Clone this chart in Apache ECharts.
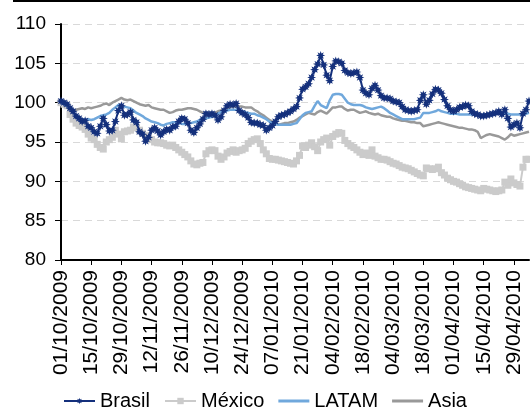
<!DOCTYPE html>
<html>
<head>
<meta charset="utf-8">
<script src="https://cdn.jsdelivr.net/npm/echarts@6/dist/echarts.min.js"></script>
<style>
  html, body { margin: 0; padding: 0; background: #fff; }
  #chart { width: 530px; height: 408px; }
</style>
</head>
<body>
<div id="chart"></div>
<script>
// business days, 01/10/2009 -> 06/05/2010
const dates = [];
const d = new Date(2009, 9, 1);
while (dates.length < 156) {
  const wd = d.getDay();
  if (wd !== 0 && wd !== 6) {
    const dd = String(d.getDate()).padStart(2, '0');
    const mm = String(d.getMonth() + 1).padStart(2, '0');
    dates.push(dd + '/' + mm + '/' + d.getFullYear());
  }
  d.setDate(d.getDate() + 1);
}

const yTicks = [80, 85, 90, 95, 100, 105, 110];

const brasil = [
  100.2, 100.0, 99.8, 99.3, 98.9, 98.3, 98.0, 97.6, 97.7, 97.0,
  96.8, 96.3, 96.1, 97.0, 98.0, 97.2, 96.4, 96.5, 97.6, 99.0,
  99.6, 98.4, 98.5, 98.8, 97.8, 97.5, 96.3, 96.0, 95.1, 95.6,
  96.5, 96.8, 96.4, 95.9, 96.3, 96.6, 96.5, 96.9, 97.0, 97.6,
  98.0, 97.9, 97.4, 96.5, 96.2, 96.8, 97.3, 97.9, 98.6, 98.5,
  98.6, 98.4, 97.8, 98.2, 99.0, 99.6, 99.8, 99.7, 99.9, 99.0,
  98.7, 98.5, 98.1, 97.5, 97.4, 97.4, 97.2, 97.1, 96.5, 96.8,
  97.1, 97.6, 98.2, 98.4, 98.5, 98.7, 98.9, 99.2, 99.5, 100.6,
  101.7, 102.0, 102.4, 103.2, 104.2, 104.9, 106.0, 104.8, 103.5, 102.8,
  104.6, 105.3, 105.2, 105.0, 104.1, 103.8, 103.7, 103.8, 103.9, 103.2,
  101.6, 101.2, 101.0, 101.8, 102.2, 101.6, 100.9, 100.6, 100.6, 100.5,
  100.2, 100.1, 100.0, 99.5, 99.1, 99.0, 98.9, 99.0, 99.1, 100.3,
  101.0, 99.8, 100.3, 101.1, 101.7, 101.6, 101.2, 100.4, 99.6, 99.1,
  98.9, 99.1, 99.4, 99.5, 99.7, 99.6, 98.9, 98.6, 98.5, 98.3,
  98.3, 98.4, 98.5, 98.6, 98.7, 98.9, 98.5, 99.1, 98.0, 96.9,
  97.2, 97.4, 96.8, 98.6, 99.1, 100.2
];

const mexico = [
  100.0, 99.8, 99.6, 98.5, 97.9, 97.4, 97.1, 96.9, 96.6, 96.0,
  95.5, 95.3, 94.7, 94.3, 94.1, 95.0, 95.3, 95.6, 96.5, 96.0,
  95.4, 96.3, 96.4, 96.5, 96.9, 96.8, 96.5, 96.1, 95.8, 95.5,
  95.3, 95.0, 94.9, 94.9, 94.8, 94.6, 94.5, 94.6, 94.3, 94.0,
  93.7, 93.4, 93.1, 92.6, 92.2, 92.1, 92.3, 92.4, 93.5, 93.9,
  94.0, 93.9, 93.2, 92.8, 93.1, 93.6, 93.8, 94.0, 93.7, 93.9,
  94.0, 94.2, 94.8, 95.1, 95.3, 95.4, 94.8, 94.0, 93.5, 92.9,
  92.8, 92.8, 92.7, 92.6, 92.5, 92.4, 92.3, 92.2, 92.6, 93.3,
  94.5, 94.3, 94.6, 94.9, 94.4, 93.9, 95.0, 95.3, 95.5, 94.6,
  95.7, 96.0, 96.2, 96.1, 95.2, 94.8, 94.5, 94.3, 94.0, 93.7,
  93.4, 93.6, 93.3, 94.0, 93.2, 93.0, 92.8, 92.8, 92.7, 92.5,
  92.3, 92.2, 92.0, 91.8, 91.7, 91.6, 91.4, 91.2, 91.0, 90.8,
  90.7, 91.7, 91.6, 91.5, 91.6, 91.8, 91.1, 90.8, 90.4, 90.2,
  90.0, 89.9, 89.7, 89.5, 89.3, 89.2, 89.1, 89.0, 88.9, 88.8,
  89.1, 89.0, 88.9, 88.8, 88.7, 88.8, 88.9, 89.9, 89.5, 90.3,
  89.8, 89.6, 89.4, 91.8, 92.8, 92.8
];

const latam = [
  100.0, 99.8, 99.6, 99.4, 98.8, 98.4, 98.1, 97.9, 97.8, 97.9,
  97.8, 97.9, 98.1, 98.3, 98.4, 98.5, 98.7, 99.1, 99.4, 99.7,
  99.6, 99.5, 99.4, 99.3, 99.0, 98.7, 98.5, 98.3, 98.0, 97.8,
  97.6, 97.5, 97.4, 97.2, 97.1, 97.3, 97.4, 97.5, 97.5, 97.4,
  97.3, 97.3, 97.4, 97.4, 97.5, 97.6, 97.8, 97.9, 98.0, 98.1,
  98.2, 98.4, 98.6, 98.8, 98.9, 99.0, 99.1, 99.1, 99.1, 99.0,
  98.9, 98.8, 98.7, 98.6, 98.6, 98.4, 98.3, 98.1, 97.9, 97.6,
  97.4, 97.3, 97.2, 97.2, 97.2, 97.2, 97.2, 97.3, 97.4, 97.9,
  98.4, 98.7, 98.8, 98.9, 99.6, 100.2, 99.7, 99.5, 99.3, 100.3,
  101.0, 101.1, 101.1, 101.0, 100.5, 100.0, 99.8, 99.7, 99.7, 99.7,
  99.6, 99.4, 99.3, 99.2, 99.3, 99.4, 99.5, 99.3, 99.0, 98.7,
  98.5, 98.3, 98.1, 97.9, 97.9, 97.9, 97.9, 97.9, 98.0, 98.1,
  98.7, 98.7, 98.7, 98.8, 98.9, 99.1, 98.9, 98.8, 98.7, 98.6,
  98.6, 98.6, 98.5, 98.5, 98.5, 98.5, 98.5, 98.5, 98.4, 98.4,
  98.5, 98.5, 98.6, 98.6, 98.7, 98.7, 98.7, 98.7, 98.6, 98.5,
  98.5, 98.5, 98.5, 98.5, 98.6, 98.7
];

const asia = [
  100.0, 99.8, 99.5, 99.3, 99.0, 99.1, 99.2, 99.3, 99.2, 99.4,
  99.3, 99.4, 99.5, 99.6, 99.8, 99.9, 99.7, 100.0, 100.2, 100.4,
  100.6, 100.4, 100.3, 100.4, 100.2, 100.0, 99.8, 99.7, 99.6, 99.7,
  99.4, 99.3, 99.2, 99.1, 99.1, 98.9, 98.7, 98.8, 99.0, 99.1,
  99.1, 99.2, 99.3, 99.3, 99.2, 99.1, 98.9, 98.7, 98.6, 98.6,
  98.7, 98.7, 98.9, 99.0, 99.1, 99.3, 99.4, 99.5, 99.5, 99.5,
  99.5, 99.4, 99.4, 99.4, 99.1, 98.9, 98.6, 98.4, 98.1, 97.8,
  97.6, 97.4, 97.2, 97.3, 97.4, 97.4, 97.5, 97.6, 97.8, 98.1,
  98.3, 98.5, 98.7, 98.6, 98.5, 98.8, 99.0, 98.8, 98.6, 99.0,
  99.4, 99.4, 99.5, 99.5, 99.2, 99.0, 99.1, 99.1, 98.9, 98.7,
  98.8, 98.9, 98.7, 98.6, 98.5, 98.6, 98.4, 98.3, 98.2, 98.2,
  98.0, 97.9, 97.8, 97.7, 97.7, 97.6, 97.5, 97.5, 97.4, 97.4,
  97.0, 97.1, 97.2, 97.3, 97.4, 97.5, 97.4, 97.3, 97.2, 97.1,
  97.0, 96.9, 96.8, 96.8, 96.7, 96.6, 96.6, 96.5, 96.3, 95.5,
  95.7, 95.9, 96.0, 95.9, 95.8, 95.7, 95.5, 95.3, 95.6, 96.0,
  95.8, 95.9, 96.0, 96.1, 96.2, 96.3
];

// excel-like star marker (8 points)
const starPath = 'path://M5,0L2.3,0.95L3.54,3.54L0.95,2.3L0,5L-0.95,2.3L-3.54,3.54L-2.3,0.95L-5,0L-2.3,-0.95L-3.54,-3.54L-0.95,-2.3L0,-5L0.95,-2.3L3.54,-3.54L2.3,-0.95Z';
// plain line icon for the legend
const lineIcon = 'path://M0,0H31V3H0Z';

const font = 'Liberation Sans, Arial, sans-serif';
const chart = echarts.init(document.getElementById('chart'));

const option = {
  animation: false,
  textStyle: { fontFamily: font },
  graphic: [
    { type: 'line', shape: { x1: 13, y1: 1, x2: 530, y2: 1 }, style: { stroke: '#000', lineWidth: 2 } }
  ],
  legend: {
    left: 58,
    top: 386,
    itemWidth: 31,
    itemHeight: 8,
    itemGap: 14,
    textStyle: { fontSize: 20, color: '#000', fontFamily: font },
    data: [
      { name: 'Brasil' },
      { name: 'México' },
      { name: 'LATAM', icon: lineIcon },
      { name: 'Asia', icon: lineIcon }
    ]
  },
  grid: { left: 61, right: 1, top: 24, bottom: 148 },
  xAxis: {
    type: 'category',
    data: dates,
    boundaryGap: false,
    axisLine: { lineStyle: { color: '#000', width: 2 } },
    axisTick: { interval: (i) => i % 10 === 0, length: 5, lineStyle: { color: '#000', width: 1 } },
    axisLabel: {
      interval: (i) => i % 10 === 0,
      rotate: 90,
      margin: 10,
      fontSize: 21,
      color: '#000',
      fontFamily: font
    },
    splitLine: { show: false }
  },
  yAxis: {
    type: 'value',
    min: yTicks[0],
    max: yTicks[yTicks.length - 1],
    interval: 5,
    axisLine: { show: true, lineStyle: { color: '#000', width: 2 } },
    axisTick: { show: true, length: 6, lineStyle: { color: '#000', width: 1 } },
    axisLabel: { fontSize: 19, color: '#000', margin: 15, fontFamily: font },
    splitLine: { lineStyle: { color: '#d9d9d9', type: [7, 5], width: 1 } }
  },
  series: [
    {
      name: 'México',
      type: 'line',
      data: mexico,
      symbol: 'rect',
      symbolSize: 7,
      showAllSymbol: true,
      lineStyle: { color: '#cbcbcb', width: 2 },
      itemStyle: { color: '#cbcbcb' },
      z: 2
    },
    {
      name: 'Asia',
      type: 'line',
      data: asia,
      showSymbol: false,
      symbol: 'none',
      lineStyle: { color: '#999999', width: 2.5 },
      itemStyle: { color: '#999999' },
      z: 3
    },
    {
      name: 'LATAM',
      type: 'line',
      data: latam,
      showSymbol: false,
      symbol: 'none',
      lineStyle: { color: '#70a8dc', width: 2.5 },
      itemStyle: { color: '#70a8dc' },
      z: 4
    },
    {
      name: 'Brasil',
      type: 'line',
      data: brasil,
      symbol: starPath,
      symbolSize: 9,
      showAllSymbol: true,
      lineStyle: { color: '#14307c', width: 2 },
      itemStyle: { color: '#14307c' },
      z: 5
    }
  ]
};

chart.setOption(option);
</script>
</body>
</html>
